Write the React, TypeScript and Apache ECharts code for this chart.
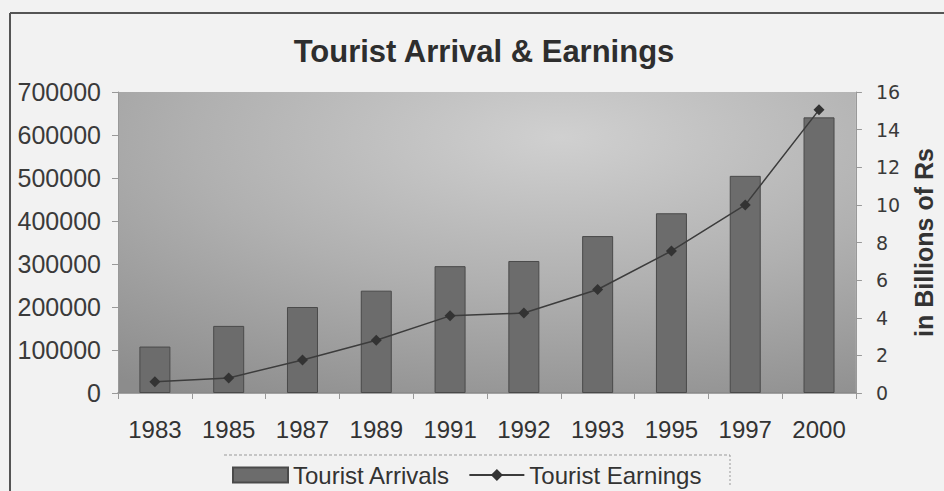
import React, { useEffect, useRef } from "react";
import * as echarts from "echarts";

const years = ["1983", "1985", "1987", "1989", "1991", "1992", "1993", "1995", "1997", "2000"];
const arrivals = [108000, 156000, 200000, 238000, 295000, 307000, 365000, 418000, 505000, 641000];
const earnings = [0.6, 0.8, 1.75, 2.8, 4.1, 4.25, 5.5, 7.55, 10.0, 15.05];

export default function App() {
  const ref = useRef<HTMLDivElement>(null);
  useEffect(() => {
    if (!ref.current) return;
    const chart = echarts.init(ref.current, null, { renderer: "svg" });
    const font = "'Liberation Sans', Arial, sans-serif";
    chart.setOption({
      animation: false,
      backgroundColor: "#f2f2f2",
      title: {
        text: "Tourist Arrival & Earnings",
        left: 484,
        textAlign: "center",
        top: 36,
        padding: 0,
        textStyle: { fontFamily: font, fontSize: 31, fontWeight: "bold", color: "#2e2e2e" },
      },
      legend: {
        left: 232,
        top: 463,
        padding: 0,
        itemWidth: 55,
        itemHeight: 15,
        itemGap: 18,
        textStyle: { fontFamily: font, fontSize: 24, color: "#333" },
        data: [
          { name: "Tourist Arrivals", icon: "rect" },
          { name: "Tourist Earnings" },
        ],
      },
      grid: {
        left: 118,
        right: 77,
        top: 92,
        bottom: 98,
        show: true,
        borderWidth: 0,
        backgroundColor: {
          type: "radial",
          x: 0.6,
          y: 0.15,
          r: 1,
          colorStops: [
            { offset: 0, color: "#d0d0d0" },
            { offset: 0.5, color: "#b0b0b0" },
            { offset: 1, color: "#8c8c8c" },
          ],
        },
      },
      xAxis: {
        type: "category",
        data: years,
        axisLine: { lineStyle: { color: "#888", width: 1.5 } },
        axisTick: { show: true, length: 6, lineStyle: { color: "#999" } },
        axisLabel: { fontFamily: font, fontSize: 24, color: "#333", margin: 24 },
      },
      yAxis: [
        {
          type: "value",
          min: 0,
          max: 700000,
          interval: 100000,
          splitLine: { show: false },
          axisLine: { show: true, lineStyle: { color: "#999" } },
          axisTick: { show: true, length: 6, lineStyle: { color: "#999" } },
          axisLabel: {
            fontFamily: font,
            fontSize: 25,
            color: "#3a3a3a",
            margin: 17,
            formatter: (v: number) => String(v),
          },
        },
        {
          type: "value",
          min: 0,
          max: 16,
          interval: 2,
          position: "right",
          splitLine: { show: false },
          axisLine: { show: true, lineStyle: { color: "#999" } },
          axisTick: { show: true, length: 6, lineStyle: { color: "#999" } },
          axisLabel: { fontFamily: "'DejaVu Sans', sans-serif", fontSize: 19, color: "#3a3a3a", margin: 20 },
          name: "in Billions of Rs",
          nameLocation: "middle",
          nameRotate: 90,
          nameGap: 47,
          nameTextStyle: { fontFamily: font, fontSize: 25, fontWeight: "bold", color: "#333" },
        },
      ],
      series: [
        {
          name: "Tourist Arrivals",
          type: "bar",
          data: arrivals,
          barWidth: 31,
          itemStyle: { color: "#6c6c6c", borderColor: "#4a4a4a", borderWidth: 1 },
        },
        {
          name: "Tourist Earnings",
          type: "line",
          yAxisIndex: 1,
          data: earnings,
          symbol: "diamond",
          symbolSize: 11,
          lineStyle: { color: "#3c3c3c", width: 1.5 },
          itemStyle: { color: "#333" },
        },
      ],
      graphic: [
        { type: "line", shape: { x1: 10, y1: 13, x2: 944, y2: 13 }, style: { stroke: "#555", lineWidth: 2 } },
        { type: "line", shape: { x1: 10, y1: 13, x2: 10, y2: 491 }, style: { stroke: "#555", lineWidth: 2 } },
        { type: "line", shape: { x1: 224, y1: 455, x2: 730, y2: 455 }, style: { stroke: "#999", lineWidth: 1, lineDash: [3, 2] } },
        { type: "line", shape: { x1: 730, y1: 455, x2: 730, y2: 487 }, style: { stroke: "#999", lineWidth: 1, lineDash: [2, 2] } },
      ],
    });
    return () => chart.dispose();
  }, []);
  return (
    <div
      ref={ref}
      style={{ position: "fixed", left: 0, top: 0, width: 944, height: 491 }}
    />
  );
}
